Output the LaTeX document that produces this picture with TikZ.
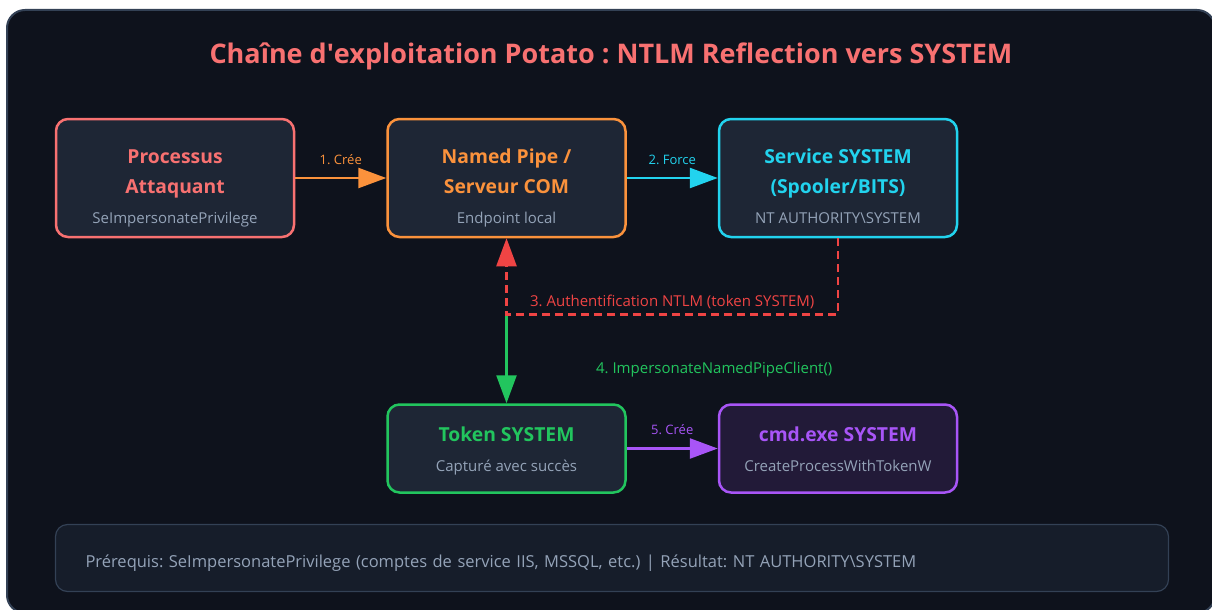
\documentclass[tikz,border=0pt]{standalone}
\usepackage{fontspec}
\setmainfont{Open Sans}
\usetikzlibrary{arrows.meta, positioning, calc}
\definecolor{pagebg}{HTML}{0E121C}
\definecolor{cardfill}{HTML}{1E2635}
\definecolor{cardedge}{HTML}{334155}
\definecolor{attk}{HTML}{F87171}
\definecolor{pipe}{HTML}{FB923C}
\definecolor{svc}{HTML}{22D3EE}
\definecolor{tokn}{HTML}{22C55E}
\definecolor{shell}{HTML}{A855F7}
\definecolor{shellfill}{HTML}{221A38}
\definecolor{ntlm}{HTML}{EF4444}
\definecolor{inkfaint}{HTML}{94A3B8}
\definecolor{notefill}{HTML}{161D2A}
\newcommand{\subtxt}{\fontsize{15}{30}\selectfont\mdseries\color{inkfaint}}
\frenchspacing

\begin{document}
\begin{tikzpicture}[
  x=1pt, y=-1pt,
  node distance=91pt,
  card/.style={draw, rounded corners=12pt, line width=2.5pt, fill=cardfill, minimum width=238pt,
               inner sep=0pt, align=center, font=\fontsize{19.3}{30}\selectfont\bfseries},
  tallcard/.style={card, minimum height=118pt, text height=93.5pt, text depth=3.5pt},
  flatcard/.style={card, minimum height=88pt, text height=49.5pt, text depth=3.5pt},
  flow/.style={line width=2.5pt, -{Triangle[length=28pt, width=20pt]}},
  lbl/.style={font=\fontsize{13}{15}\selectfont, above=9pt},
  biglbl/.style={font=\fontsize{15}{17}\selectfont}
]
\fill[white] (0,0) rectangle (1212,610);
\useasboundingbox (0,0) rectangle (1212,610);
\draw[draw=cardedge, line width=2pt, fill=pagebg, rounded corners=18pt] (7,10) rectangle (1215,613);

\node[font=\fontsize{27}{32}\selectfont\bfseries, text=attk] (title) at (611,56)
  {Chaîne d\textquotesingle exploitation Potato : NTLM Reflection vers SYSTEM};

\node[tallcard, draw=attk, text=attk]        (proc) at (175,178) {Processus\\Attaquant\\{\subtxt SeImpersonatePrivilege}};
\node[tallcard, draw=pipe, text=pipe, right=of proc] (pipe) {Named Pipe /\\Serveur COM\\{\subtxt Endpoint local}};
\node[tallcard, draw=svc, text=svc, right=of pipe]   (svc)  {Service SYSTEM\\(Spooler/BITS)\\{\subtxt NT AUTHORITY\textbackslash SYSTEM}};
\node[flatcard, draw=tokn, text=tokn, below=165pt of pipe] (tok) {Token SYSTEM\\{\subtxt Capturé avec succès}};
\node[flatcard, draw=shell, fill=shellfill, text=shell, right=of tok] (cmd) {cmd.exe SYSTEM\\{\subtxt CreateProcessWithTokenW}};

\coordinate (junct) at ([yshift=-76pt]pipe.south);

\draw[flow, pipe]  (proc) -- node[lbl, text=pipe]{1. Crée}  (pipe);
\draw[flow, svc]   (pipe) -- node[lbl, text=svc]{2. Force} (svc);
\draw[flow, tokn]  (junct) -- node[biglbl, text=tokn, pos=0.62, right=85pt]{4. ImpersonateNamedPipeClient()} (tok);
\draw[flow, ntlm, dash pattern=on 8pt off 5pt] (svc.south) |- node[biglbl, text=ntlm, pos=0.75, above=1pt]{3. Authentification NTLM (token SYSTEM)} (junct) -- (pipe.south);
\draw[flow, shell] (tok) -- node[lbl, text=shell]{5. Crée} (cmd);

\node[draw=cardedge, line width=1.2pt, fill=notefill, rounded corners=12pt, minimum height=67pt,
      text width=1053pt, inner xsep=30pt, align=left, text=inkfaint, text height=18pt, text depth=0pt,
      font=\fontsize{16.5}{19}\selectfont]
  (note) at (612,558) {Prérequis: SeImpersonatePrivilege (comptes de service IIS, MSSQL, etc.) | Résultat: NT AUTHORITY\textbackslash SYSTEM};
\end{tikzpicture}
\end{document}
